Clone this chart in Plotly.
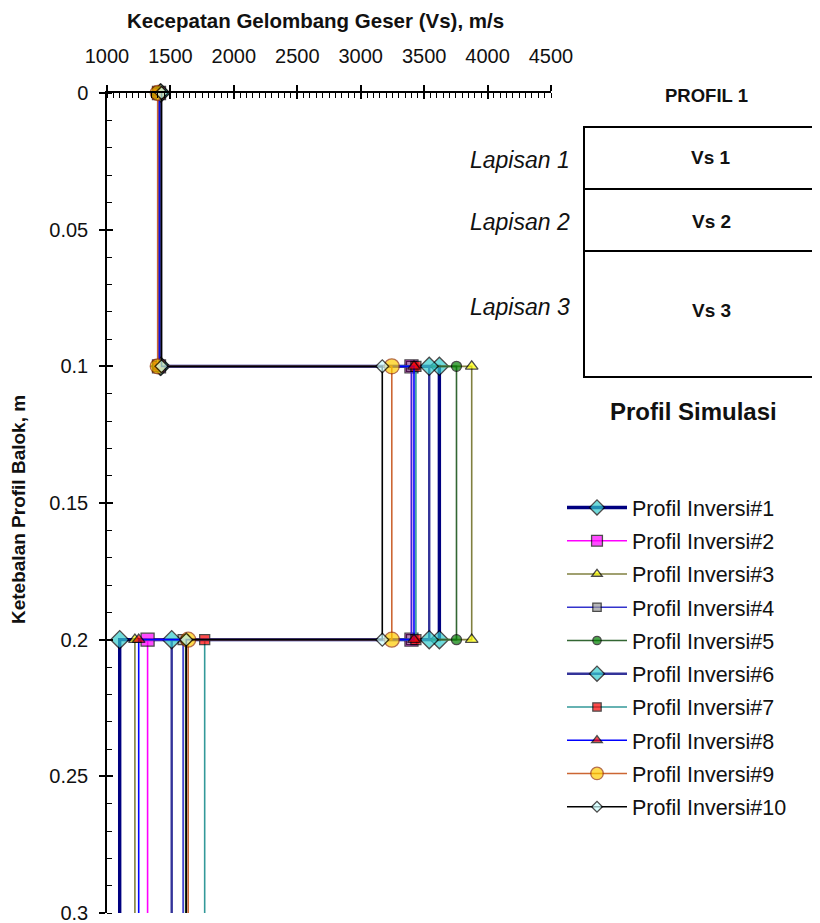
import plotly.graph_objects as go

# ---------------- data ----------------
depth_top = [0.0, 0.1, 0.2]
depth_bottom = 0.3
names = ["Profil Inversi#1", "Profil Inversi#2", "Profil Inversi#3", "Profil Inversi#4",
         "Profil Inversi#5", "Profil Inversi#6", "Profil Inversi#7", "Profil Inversi#8",
         "Profil Inversi#9", "Profil Inversi#10"]
vs1 = [1420, 1410, 1415, 1405, 1420, 1425, 1400, 1410, 1400, 1430]
vs2 = [3620, 3400, 3875, 3400, 3755, 3540, 3435, 3420, 3245, 3170]
vs3 = [1100, 1320, 1220, 1600, 1620, 1510, 1770, 1250, 1640, 1625]

x_ticks = [1000, 1500, 2000, 2500, 3000, 3500, 4000, 4500]
y_ticks = [0, 0.05, 0.1, 0.15, 0.2, 0.25, 0.3]
y_tick_labels = ["0", "0.05", "0.1", "0.15", "0.2", "0.25", "0.3"]

line_colors = ["#000080", "#FF00FF", "#808040", "#3333CC", "#336633", "#333399",
               "#339999", "#0000FF", "#CC6633", "#000000"]
line_widths = [3.4, 1.6, 1.6, 1.6, 1.6, 2.4, 1.6, 1.6, 1.6, 1.6]
marker_symbols = ["diamond", "square", "triangle-up", "square", "circle", "diamond",
                  "square", "triangle-up", "circle", "diamond"]
marker_colors = ["#33CCCC", "#FF00FF", "#FFFF00", "#999999", "#008000", "#33CCCC",
                 "#FF0000", "#FF0000", "#FFCC00", "#CCFFFF"]
marker_line_colors = ["#000000", "#000000", "#000000", "#000000", "#000000", "#000000",
                      "#000000", "#000000", "#993300", "#000000"]
marker_sizes = [14, 13, 11, 10, 10, 14, 10, 11, 15, 10]

fig = go.Figure()
for i, nm in enumerate(names):
    xs = [vs1[i], vs1[i], vs2[i], vs2[i], vs3[i], vs3[i]]
    ys = [depth_top[0], depth_top[1], depth_top[1], depth_top[2], depth_top[2], depth_bottom]
    sizes = [marker_sizes[i]] * 5 + [0]
    fig.add_trace(go.Scatter(
        x=xs, y=ys, name=nm, mode="lines+markers", legendgroup=nm,
        line=dict(color=line_colors[i], width=line_widths[i]),
        marker=dict(symbol=marker_symbols[i], color=marker_colors[i], size=sizes,
                    line=dict(color=marker_line_colors[i], width=1.3)),
        cliponaxis=False,
    ))

# invisible helper trace so the overlay axes (inner half of crossing ticks) render
fig.add_trace(go.Scatter(x=[None], y=[None], xaxis="x2", yaxis="y2",
                         showlegend=False, hoverinfo="skip"))

# The page body has an 8px margin: screen coords = figure coords + 8
OFF = 8
W, H = 820, 923
L, R, T, B = 107 - OFF, 551 - OFF, 93 - OFF, 913 - OFF   # figure coords of plot area
def px(p):   # screen x pixel -> paper
    return (p - OFF - L) / (R - L)
def py(p):   # screen y pixel -> paper
    return (B - (p - OFF)) / (B - T)

font = "Liberation Sans, Arial, sans-serif"
tc = "#111111"

fig.update_layout(
    width=W, height=H,
    margin=dict(l=L, r=W - R, t=T, b=H - B, autoexpand=False),
    paper_bgcolor="white", plot_bgcolor="white",
    font=dict(family=font, color="#000000"),
    showlegend=True,
    legend=dict(x=px(562), y=py(487), xanchor="left", yanchor="top",
                font=dict(size=21.5, family=font, color=tc),
                traceorder="grouped", tracegroupgap=2.3, itemwidth=60,
                bgcolor="rgba(0,0,0,0)"),
    xaxis=dict(
        side="top", range=[1000, 4500], tickvals=x_ticks,
        showgrid=False, zeroline=False, automargin=False,
        showline=True, linecolor="black", linewidth=1.5,
        ticks="outside", ticklen=6, tickcolor="black", tickwidth=1.5,
        ticklabelstandoff=14,
        minor=dict(dtick=50, ticks="inside", ticklen=5, tickcolor="black", tickwidth=1),
        tickfont=dict(size=20, family=font, color=tc),
    ),
    yaxis=dict(
        range=[0.3, 0], tickvals=y_ticks, ticktext=y_tick_labels,
        showgrid=False, zeroline=False, automargin=False,
        showline=True, linecolor="black", linewidth=1.5,
        ticks="outside", ticklen=6, tickcolor="black", tickwidth=1.5,
        ticklabelstandoff=7,
        minor=dict(dtick=0.01, ticks="inside", ticklen=5, tickcolor="black", tickwidth=1),
        tickfont=dict(size=20, family=font, color=tc),
    ),
    xaxis2=dict(overlaying="x", side="top", range=[1000, 4500], tickvals=x_ticks,
                showgrid=False, zeroline=False, showline=False, automargin=False,
                ticks="inside", ticklen=6, tickcolor="black", tickwidth=1.5,
                showticklabels=False),
    yaxis2=dict(overlaying="y", range=[0.3, 0], tickvals=y_ticks,
                showgrid=False, zeroline=False, showline=False, automargin=False,
                ticks="inside", ticklen=6, tickcolor="black", tickwidth=1.5,
                showticklabels=False),
)

# schematic box on the right
shapes = [
    dict(type="rect", xref="paper", yref="paper", x0=px(584), x1=px(840), y0=py(377), y1=py(127),
         line=dict(color="black", width=2)),
    dict(type="line", xref="paper", yref="paper", x0=px(584), x1=px(840), y0=py(189), y1=py(189),
         line=dict(color="black", width=2)),
    dict(type="line", xref="paper", yref="paper", x0=px(584), x1=px(840), y0=py(251), y1=py(251),
         line=dict(color="black", width=2)),
]
fig.update_layout(shapes=shapes)

ann = []
def add_text(text, x, y, size, bold=False, italic=False, xanchor="center", angle=0):
    t = text
    if bold:
        t = "<b>" + t + "</b>"
    if italic:
        t = "<i>" + t + "</i>"
    ann.append(dict(text=t, x=px(x), y=py(y), xref="paper", yref="paper", showarrow=False,
                    xanchor=xanchor, yanchor="middle", textangle=angle,
                    font=dict(size=size, family=font, color=tc)))

add_text("Kecepatan Gelombang Geser (Vs), m/s", 315, 21, 20.5, bold=True)
add_text("Ketebalan Profil Balok, m", 18, 510, 19, bold=True, angle=-90)
add_text("PROFIL 1", 706, 95, 18.5, bold=True)
add_text("Vs 1", 711, 158, 19, bold=True)
add_text("Vs 2", 711, 221, 19, bold=True)
add_text("Vs 3", 711, 310, 19, bold=True)
add_text("Lapisan 1", 572, 160, 23, italic=True, xanchor="right")
add_text("Lapisan 2", 572, 222, 23, italic=True, xanchor="right")
add_text("Lapisan 3", 572, 307, 23, italic=True, xanchor="right")
add_text("Profil Simulasi", 693, 411, 24, bold=True)
fig.update_layout(annotations=ann)

fig.write_html("out.html")
